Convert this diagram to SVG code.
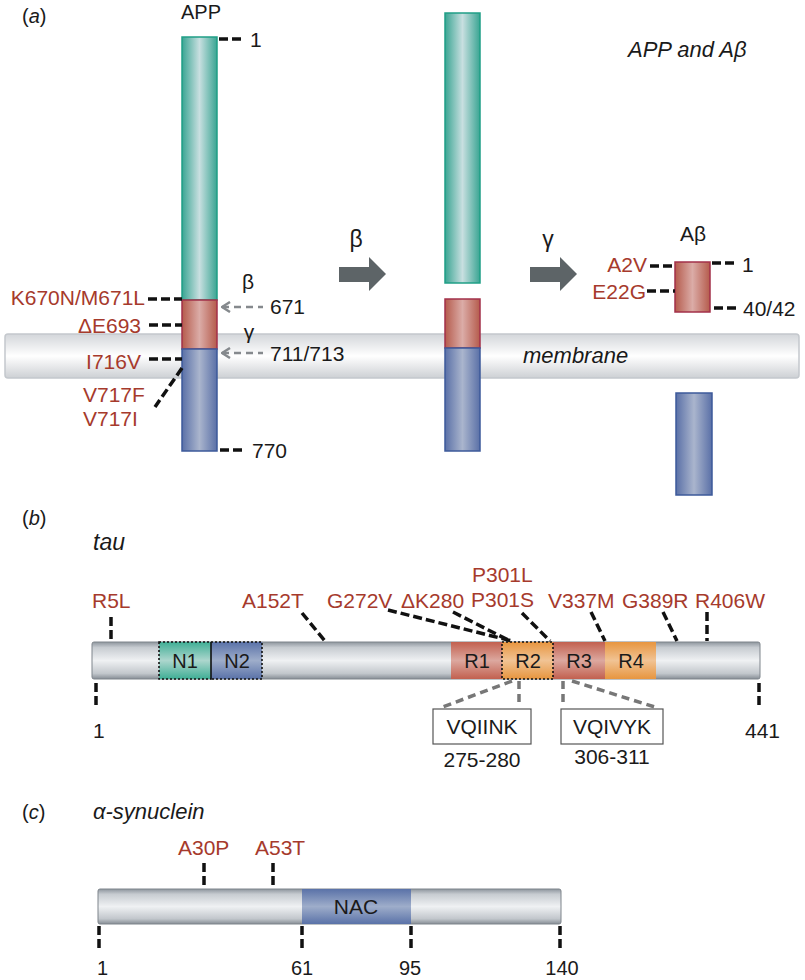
<svg xmlns="http://www.w3.org/2000/svg" width="805" height="980" viewBox="0 0 805 980">
<defs>
<linearGradient id="gTeal" x1="0" y1="0" x2="1" y2="0"><stop offset="0" stop-color="#3aa593"/><stop offset="0.5" stop-color="#c8dfe0"/><stop offset="1" stop-color="#3aa593"/></linearGradient>
<linearGradient id="gRed" x1="0" y1="0" x2="1" y2="0"><stop offset="0" stop-color="#b55b4c"/><stop offset="0.5" stop-color="#dbaca7"/><stop offset="1" stop-color="#b55b4c"/></linearGradient>
<linearGradient id="gBlue" x1="0" y1="0" x2="1" y2="0"><stop offset="0" stop-color="#5a70a7"/><stop offset="0.5" stop-color="#aab5cd"/><stop offset="1" stop-color="#5a70a7"/></linearGradient>
<linearGradient id="gMem" x1="0" y1="0" x2="0" y2="1"><stop offset="0" stop-color="#d3d6da"/><stop offset="0.5" stop-color="#ffffff"/><stop offset="1" stop-color="#cdd0d4"/></linearGradient>
<linearGradient id="gBar" x1="0" y1="0" x2="0" y2="1"><stop offset="0" stop-color="#8d959d"/><stop offset="0.15" stop-color="#c7ccd1"/><stop offset="0.5" stop-color="#eff1f3"/><stop offset="0.85" stop-color="#c2c7cc"/><stop offset="1" stop-color="#868d95"/></linearGradient>
<linearGradient id="gR" x1="0" y1="0" x2="0" y2="1"><stop offset="0" stop-color="#c2604f"/><stop offset="0.5" stop-color="#dca89f"/><stop offset="1" stop-color="#c2604f"/></linearGradient>
<linearGradient id="gO" x1="0" y1="0" x2="0" y2="1"><stop offset="0" stop-color="#e7953f"/><stop offset="0.5" stop-color="#f1c394"/><stop offset="1" stop-color="#e7953f"/></linearGradient>
<linearGradient id="gN1" x1="0" y1="0" x2="0" y2="1"><stop offset="0" stop-color="#3fae95"/><stop offset="0.5" stop-color="#acd6cd"/><stop offset="1" stop-color="#3fae95"/></linearGradient>
<linearGradient id="gN2" x1="0" y1="0" x2="0" y2="1"><stop offset="0" stop-color="#5a72a8"/><stop offset="0.5" stop-color="#9eadca"/><stop offset="1" stop-color="#5a72a8"/></linearGradient>
<marker id="chev" viewBox="0 0 10 12" refX="9" refY="6" markerWidth="10" markerHeight="12" markerUnits="userSpaceOnUse" orient="auto-start-reverse"><path d="M1,1 L9,6 L1,11" fill="none" stroke="#85898d" stroke-width="2.5"/></marker>
</defs>
<style>
text{font-family:"Liberation Sans",Arial,sans-serif;font-size:21px;fill:#1a1a1a}
.red{fill:#a63a2c}
.it{font-style:italic;font-size:22px}
.lbl{font-size:20px}
.mid{text-anchor:middle}
.end{text-anchor:end}
.dash{stroke:#111;stroke-width:3.5;stroke-dasharray:9 4;fill:none}
.gdash{stroke:#777;stroke-width:3.5;stroke-dasharray:8 5;fill:none}
.garr{stroke:#85898d;stroke-width:2.5;stroke-dasharray:7 5;fill:none}
.teal{fill:url(#gTeal);stroke:#1f9f86;stroke-width:1.5}
.redb{fill:url(#gRed);stroke:#a3304a;stroke-width:1.5}
.blue{fill:url(#gBlue);stroke:#3d5a9a;stroke-width:1.5}
.bigarr{fill:#5d6467}
.dom{stroke:none}
.dot{fill:none;stroke:#111;stroke-width:1.6;stroke-dasharray:2 2}
.box{fill:#fff;stroke:#555;stroke-width:1.2}
</style>

<g id="panel-a">
<text x="22" y="23" style="font-size:20px">(<tspan font-style="italic">a</tspan>)</text>
<text class="it" x="628" y="57">APP and Aβ</text>
</g>

<g id="membrane">
<rect x="5" y="334" width="794" height="44" rx="3" fill="url(#gMem)" stroke="#c4c8cd" stroke-width="1.5"/>
<text class="it" x="523" y="363">membrane</text>
</g>

<g id="app">
<text x="181" y="19" style="font-size:20px">APP</text>
<rect class="teal" x="182" y="37" width="35" height="263"/>
<rect class="redb" x="182" y="300" width="35" height="49"/>
<rect class="blue" x="182" y="349" width="35" height="102"/>
<text x="250" y="47">1</text>
<text x="252" y="458">770</text>
<text class="mid" x="248" y="289">β</text>
<text x="270" y="314">671</text>
<text class="mid" x="249" y="339">γ</text>
<text x="270" y="361">711/713</text>
<text class="red end" x="145" y="305">K670N/M671L</text>
<text class="red end" x="141" y="333">ΔE693</text>
<text class="red end" x="141" y="369">I716V</text>
<text class="red" x="83" y="402">V717F</text>
<text class="red" x="83" y="426">V717I</text>
</g>

<g id="arrow-beta">
<polygon class="bigarr" points="339,267 369,267 369,257 386,274 369,291 369,282 339,282"/>
<text class="mid" x="356" y="247" style="font-size:23px">β</text>
</g>

<g id="app-cleaved">
<rect class="teal" x="445" y="13" width="35" height="270"/>
<rect class="redb" x="445" y="299" width="35" height="49"/>
<rect class="blue" x="445" y="348" width="35" height="103"/>
</g>

<g id="arrow-gamma">
<polygon class="bigarr" points="530,267 560,267 560,257 577,274 560,291 560,282 530,282"/>
<text class="mid" x="548" y="247" style="font-size:23px">γ</text>
</g>

<g id="abeta">
<text class="mid" x="693" y="241">Aβ</text>
<rect class="redb" x="675" y="262" width="35" height="50"/>
<text x="742" y="272">1</text>
<text x="743" y="316">40/42</text>
<text class="red end" x="647" y="272">A2V</text>
<text class="red end" x="646" y="299">E22G</text>
</g>

<g id="aicd">
<rect class="blue" x="676" y="393" width="36" height="102"/>
</g>

<g id="panel-b">
<text x="22" y="525" style="font-size:20px">(<tspan font-style="italic">b</tspan>)</text>
<text class="it" x="93" y="550" style="font-size:23px">tau</text>
</g>

<g id="tau">
<rect x="92" y="642" width="668" height="37" rx="2" fill="url(#gBar)" stroke="#7e858c" stroke-width="1"/>
<rect class="dom" x="159" y="642" width="52" height="37" fill="url(#gN1)"/>
<rect class="dom" x="211" y="642" width="51" height="37" fill="url(#gN2)"/>
<rect class="dot" x="159" y="642" width="52" height="37"/>
<rect class="dot" x="211" y="642" width="51" height="37"/>
<rect class="dom" x="451" y="642" width="51" height="37" fill="url(#gR)"/>
<rect class="dom" x="502" y="642" width="51" height="37" fill="url(#gO)"/>
<rect class="dom" x="553" y="642" width="52" height="37" fill="url(#gR)"/>
<rect class="dom" x="605" y="642" width="51" height="37" fill="url(#gO)"/>
<rect class="dot" x="502" y="642" width="51" height="37"/>
<text class="mid lbl" x="185" y="668">N1</text>
<text class="mid lbl" x="237" y="668">N2</text>
<text class="mid lbl" x="477" y="668">R1</text>
<text class="mid lbl" x="528" y="668">R2</text>
<text class="mid lbl" x="579" y="668">R3</text>
<text class="mid lbl" x="631" y="668">R4</text>
<text x="93" y="738">1</text>
<text x="745" y="738">441</text>
<text class="red" x="92" y="608">R5L</text>
<text class="red" x="242" y="608">A152T</text>
<text class="red" x="327" y="608">G272V</text>
<text class="red" x="401" y="608">ΔK280</text>
<text class="red" x="472" y="582">P301L</text>
<text class="red" x="471" y="607">P301S</text>
<text class="red" x="548" y="608">V337M</text>
<text class="red" x="622" y="608">G389R</text>
<text class="red" x="695" y="608">R406W</text>
</g>

<g id="vqiink">
<rect class="box" x="433" y="709" width="98" height="35"/>
<text class="mid" x="482" y="734">VQIINK</text>
<text class="mid" x="482" y="767">275-280</text>
</g>

<g id="vqivyk">
<rect class="box" x="561" y="709" width="102" height="35"/>
<text class="mid" x="612" y="734">VQIVYK</text>
<text class="mid" x="612" y="764">306-311</text>
</g>

<g id="panel-c">
<text x="22" y="819" style="font-size:20px">(<tspan font-style="italic">c</tspan>)</text>
<text class="it" x="93" y="819">α-synuclein</text>
</g>

<g id="synuclein">
<rect x="98" y="889" width="463" height="35" rx="2" fill="url(#gBar)" stroke="#7e858c" stroke-width="1"/>
<rect class="dom" x="302" y="889" width="109" height="35" fill="url(#gN2)"/>
<text class="mid" x="356" y="914">NAC</text>
<text class="red" x="178" y="855">A30P</text>
<text class="red" x="255" y="855">A53T</text>
<text class="lbl" x="97" y="975">1</text>
<text class="mid lbl" x="302" y="975">61</text>
<text class="mid lbl" x="410" y="975">95</text>
<text class="mid lbl" x="562" y="975">140</text>
</g>

<g id="connectors">
<line class="dash" x1="219" y1="39" x2="244" y2="39"/>
<line class="dash" x1="220" y1="450" x2="245" y2="450"/>
<line class="dash" x1="148" y1="299" x2="182" y2="299"/>
<line class="dash" x1="149" y1="325" x2="182" y2="325"/>
<line class="dash" x1="149" y1="359" x2="182" y2="359"/>
<line class="dash" x1="182" y1="368" x2="155" y2="407"/>
<line class="garr" x1="222" y1="307" x2="263" y2="307" marker-start="url(#chev)"/>
<line class="garr" x1="222" y1="353" x2="263" y2="353" marker-start="url(#chev)"/>
<line class="dash" x1="650" y1="266" x2="675" y2="266"/>
<line class="dash" x1="647" y1="291" x2="675" y2="291"/>
<line class="dash" x1="712" y1="263" x2="737" y2="263"/>
<line class="dash" x1="714" y1="308" x2="738" y2="308"/>
<line class="dash" x1="111" y1="617" x2="111" y2="641"/>
<line class="dash" x1="302" y1="613" x2="325" y2="641"/>
<line class="dash" x1="388" y1="610" x2="512" y2="641"/>
<line class="dash" x1="453" y1="612" x2="510" y2="641"/>
<line class="dash" x1="522" y1="613" x2="550" y2="641"/>
<line class="dash" x1="591" y1="612" x2="605" y2="641"/>
<line class="dash" x1="663" y1="612" x2="677" y2="641"/>
<line class="dash" x1="707" y1="612" x2="707" y2="641"/>
<line class="dash" x1="96" y1="683" x2="96" y2="707"/>
<line class="dash" x1="759" y1="683" x2="759" y2="705"/>
<line class="gdash" x1="512" y1="681" x2="440" y2="708"/>
<line class="gdash" x1="519" y1="681" x2="519" y2="706"/>
<line class="gdash" x1="563" y1="681" x2="563" y2="706"/>
<line class="gdash" x1="572" y1="681" x2="658" y2="708"/>
<line class="dash" x1="204" y1="863" x2="204" y2="887"/>
<line class="dash" x1="273" y1="863" x2="273" y2="887"/>
<line class="dash" x1="99" y1="926" x2="99" y2="948"/>
<line class="dash" x1="302" y1="926" x2="302" y2="948"/>
<line class="dash" x1="411" y1="926" x2="411" y2="948"/>
<line class="dash" x1="560" y1="926" x2="560" y2="948"/>
</g>
</svg>
